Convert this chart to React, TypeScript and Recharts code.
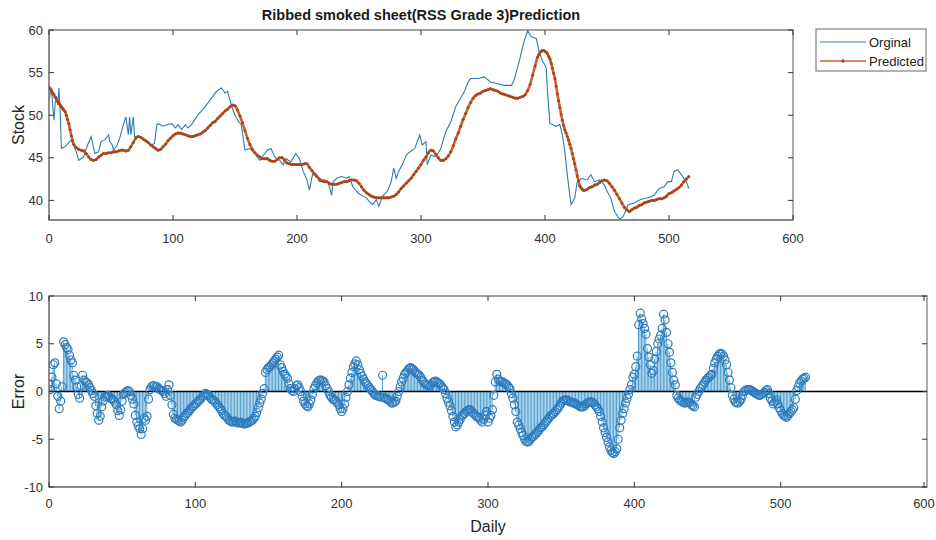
import React from 'react';
import { ComposedChart, Line, Bar, XAxis, YAxis, ReferenceLine, ReferenceArea } from 'recharts';

// x ticks shared by both panels
const xTicks = [0, 100, 200, 300, 400, 500, 600];
const stockTicks = [40, 45, 50, 55, 60];
const errTicks = [-10, -5, 0, 5, 10];

// Original price series (day, stock)
const origDays = [
  0, 1, 2, 3, 4, 5, 6, 7, 8, 9, 10, 13, 18, 22, 24, 28, 30, 34, 37, 40, 42, 45, 48, 49, 51, 52, 55, 57, 60, 62,
  64, 65, 66, 68, 69, 72, 77, 83, 85, 87, 88, 92, 96, 99, 102, 104, 107, 110, 112, 115, 120, 126, 131, 135, 139,
  142, 144, 147, 150, 153, 155, 158, 162, 166, 170, 174, 176, 179, 182, 186, 189, 191, 195, 199, 202, 205, 208,
  210, 213, 216, 218, 222, 225, 228, 229, 232, 236, 240, 242, 245, 249, 253, 256, 258, 261, 264, 266, 269, 273,
  276, 278, 280, 282, 285, 288, 291, 295, 299, 301, 304, 305, 308, 312, 316, 320, 324, 328, 332, 335, 338, 340,
  346, 351, 356, 362, 367, 373, 375, 379, 383, 386, 389, 393, 395, 398, 400, 401, 402, 404, 406, 409, 412, 414,
  416, 418, 421, 424, 426, 430, 434, 437, 440, 444, 448, 450, 453, 456, 460, 463, 467, 472, 477, 483, 488, 492,
  496, 499, 502, 504, 507, 509, 511, 514, 516,
];
const origVals = [
  51.6, 52.6, 53.2, 51.0, 49.4, 51.5, 52.2, 51.2, 53.2, 50.4, 46.1, 46.3, 47.1, 45.7, 44.7, 45.1, 46.1, 47.5, 45.5,
  45.7, 46.9, 47.1, 47.7, 46.9, 46.5, 45.9, 46.5, 47.3, 48.9, 49.8, 47.7, 49.8, 47.7, 49.8, 47.5, 47.5, 47.1, 46.5,
  46.7, 48.9, 49.0, 48.7, 48.9, 49.0, 48.5, 48.9, 48.3, 48.9, 48.5, 48.9, 50.0, 51.0, 52.0, 52.8, 53.2, 52.6, 52.8,
  51.2, 50.0, 49.2, 48.9, 45.9, 46.1, 45.5, 44.7, 45.5, 45.9, 46.1, 45.1, 44.7, 44.2, 44.9, 44.5, 45.5, 44.9, 43.4,
  42.4, 41.2, 43.4, 43.0, 42.2, 42.4, 42.2, 40.6, 42.2, 42.6, 42.8, 42.6, 42.8, 41.6, 40.9, 40.5, 40.3, 39.9, 39.5,
  40.1, 39.3, 40.5, 41.1, 42.2, 43.8, 42.6, 43.4, 44.2, 45.3, 45.7, 46.1, 47.7, 46.5, 46.9, 44.2, 45.3, 45.1, 46.1,
  48.1, 49.2, 51.0, 52.0, 52.8, 53.9, 54.3, 54.3, 54.5, 53.9, 53.7, 53.5, 53.5, 54.1, 56.2, 58.6, 59.9, 59.2, 59.0,
  57.6, 56.3, 55.9, 55.5, 52.8, 49.0, 48.9, 48.7, 48.9, 47.7, 45.7, 43.0, 39.5, 40.3, 42.2, 42.6, 42.4, 43.0, 42.2,
  42.4, 41.8, 41.1, 40.3, 38.7, 37.8, 38.1, 39.5, 39.7, 40.1, 40.3, 40.6, 41.4, 41.6, 42.2, 42.2, 43.4, 43.6, 43.2,
  42.8, 42.2, 41.4,
];

// Predicted series (day, stock)
const predDays = [
  0, 1, 2, 3, 4, 5, 6, 7, 8, 9, 10, 11, 12, 13, 14, 15, 16, 17, 18, 19, 20,
  22, 24, 26, 28, 30, 32, 34, 36, 38, 40, 42, 44, 46, 48, 50, 52, 54, 56, 58, 60, 62, 64, 66, 68, 70, 72, 74, 76,
  78, 80, 82, 84, 86, 88, 90, 92, 94, 96, 98, 100, 102, 104, 106, 108, 110, 112, 114, 116, 118, 120, 122, 124, 126,
  128, 130, 132, 134, 136, 138, 140, 142, 144, 146, 148, 150, 152, 154, 156, 158, 160, 162, 164, 166, 168, 170,
  172, 174, 176, 178, 180, 182, 184, 186, 188, 190, 192, 194, 196, 198, 200, 202, 204, 206, 208, 210, 212, 214,
  216, 218, 220, 222, 224, 226, 228, 230, 232, 234, 236, 238, 240, 242, 244, 246, 248, 250, 252, 254, 256, 258,
  260, 262, 264, 266, 268, 270, 272, 274, 276, 278, 280, 282, 284, 286, 288, 290, 292, 294, 296, 298, 300, 302,
  304, 306, 308, 310, 312, 314, 316, 318, 320, 322, 324, 326, 328, 330, 332, 334, 336, 338, 340, 342, 344, 346,
  348, 350, 352, 354, 356, 358, 360, 362, 364, 366, 368, 370, 372, 374, 376, 378, 380, 382, 384, 386, 388, 390,
  392, 394, 395, 396, 397, 398, 399, 400, 401, 402, 403, 404, 405, 406, 407, 408, 409, 410, 411, 412, 413, 414,
  415, 416, 417, 418, 419, 420, 421, 422, 423, 424, 425, 426, 427, 428, 429, 430, 431, 432, 434, 436, 438, 440,
  442, 444, 446, 448, 450, 452, 454, 456, 458, 460, 462, 464, 466, 468, 470, 472, 474, 476, 478, 480, 482, 484,
  486, 488, 490, 492, 494, 496, 498, 500, 502, 504, 506, 508, 510, 512, 514, 516,
];
const predVals = [
  53.3, 53.1, 52.9, 52.6, 52.4, 52.1, 51.9, 51.6, 51.4, 51.2, 51.0, 50.8, 50.6, 50.4, 50.0, 49.5, 49.0, 48.3, 47.6,
  47.0, 46.6,
  46.2, 46.0, 45.9, 45.8, 45.5, 45.1, 44.8, 44.7, 44.8, 45.1, 45.3, 45.5, 45.5, 45.6, 45.6, 45.7, 45.7, 45.8, 45.9,
  45.9, 45.8, 45.9, 46.3, 46.8, 47.3, 47.5, 47.4, 47.2, 47.0, 46.8, 46.5, 46.3, 46.1, 45.9, 46.0, 46.3, 46.6, 47.0,
  47.3, 47.6, 47.8, 47.9, 47.9, 47.8, 47.7, 47.6, 47.5, 47.5, 47.6, 47.7, 47.8, 48.0, 48.2, 48.5, 48.8, 49.1, 49.3,
  49.6, 49.9, 50.2, 50.5, 50.7, 51.0, 51.2, 51.1, 50.6, 49.9, 49.1, 48.2, 47.3, 46.6, 46.0, 45.6, 45.3, 45.1, 44.9,
  44.9, 44.9, 44.7, 44.6, 44.6, 44.8, 45.0, 45.0, 44.7, 44.4, 44.3, 44.2, 44.2, 44.2, 44.2, 44.2, 44.3, 44.3, 43.9,
  43.5, 43.1, 42.8, 42.5, 42.3, 42.2, 42.2, 42.0, 41.9, 41.9, 41.9, 42.0, 42.1, 42.2, 42.2, 42.3, 42.4, 42.4, 42.3,
  42.0, 41.6, 41.2, 40.9, 40.7, 40.5, 40.4, 40.3, 40.3, 40.3, 40.3, 40.3, 40.3, 40.4, 40.5, 40.7, 41.0, 41.4, 41.7,
  42.0, 42.3, 42.6, 43.0, 43.4, 43.8, 44.2, 44.7, 45.1, 45.6, 45.9, 45.8, 45.4, 45.0, 44.7, 44.7, 44.9, 45.2, 45.7,
  46.4, 47.2, 47.9, 48.7, 49.5, 50.2, 50.9, 51.5, 52.0, 52.3, 52.5, 52.6, 52.8, 52.9, 53.0, 53.1, 53.0, 52.9, 52.8,
  52.6, 52.5, 52.4, 52.3, 52.2, 52.1, 52.0, 52.0, 52.1, 52.2, 52.4, 52.9, 53.6, 54.7, 55.8, 56.8, 57.1, 57.4, 57.5,
  57.6, 57.6, 57.5, 57.4, 57.2, 56.9, 56.6, 56.1, 55.5, 54.9, 54.3, 53.4, 52.5, 51.7, 50.9, 50.1, 49.4, 48.8, 48.3,
  47.9, 47.5, 47.1, 46.6, 46.1, 45.5, 44.9, 44.3, 43.6, 42.9, 42.3, 41.7, 41.5, 41.3, 41.2, 41.2, 41.3, 41.5, 41.6,
  41.8, 41.9, 42.1, 42.3, 42.4, 42.3, 42.0, 41.6, 41.2, 40.7, 40.2, 39.7, 39.2, 38.9, 38.7, 38.9, 39.1, 39.2, 39.4,
  39.5, 39.7, 39.8, 39.9, 40.0, 40.0, 40.1, 40.2, 40.2, 40.3, 40.5, 40.8, 40.9, 41.1, 41.3, 41.5, 41.8, 42.2, 42.5,
  42.8,
];

// Prediction error, one value per day starting at day 0
const errVals = [
  0.8, 0.2, 1.5, 2.8, 3.0, 0.8, -0.5, -1.8, -1.0, 0.5, // 0
  5.2, 4.9, 4.6, 4.4, 3.8, 3.3, 3.0, 1.7, 1.2, 0.5, // 10
  -0.3, -0.7, 0.6, 1.7, 1.2, 1.0, 0.9, 0.7, 0.4, 0.1, // 20
  -0.2, -0.5, -1.5, -2.3, -3.0, -2.6, -1.6, -1.0, -0.6, -0.5, // 30
  -0.4, -0.5, -0.7, -0.8, -0.9, -1.1, -1.4, -2.0, -2.5, -1.9, // 40
  -1.0, -0.3, -0.1, 0.0, 0.1, 0.0, -0.4, -0.8, -1.3, -2.5, // 50
  -3.2, -3.6, -3.9, -4.5, -3.9, -2.8, -3.0, -2.6, -0.8, 0.2, // 60
  0.5, 0.6, 0.6, 0.5, 0.5, 0.3, 0.2, 0.1, 0.0, -0.2, // 70
  -0.5, 0.2, 0.7, -0.4, -1.4, -2.4, -2.8, -2.9, -3.0, -3.1, // 80
  -3.2, -3.0, -2.7, -2.5, -2.3, -2.2, -2.0, -1.8, -1.6, -1.5, // 90
  -1.3, -1.2, -1.0, -0.9, -0.7, -0.5, -0.4, -0.2, -0.3, -0.4, // 100
  -0.6, -0.8, -0.9, -1.0, -1.2, -1.4, -1.6, -1.8, -2.0, -2.3, // 110
  -2.5, -2.6, -2.8, -3.0, -3.1, -3.2, -3.2, -3.1, -3.2, -3.3, // 120
  -3.3, -3.2, -3.3, -3.4, -3.4, -3.3, -3.3, -3.2, -3.1, -3.0, // 130
  -2.8, -2.6, -2.2, -1.7, -1.2, -0.8, -0.2, 0.3, 2.0, 2.3, // 140
  2.5, 2.6, 2.8, 3.0, 3.2, 3.4, 3.6, 3.8, 2.8, 2.5, // 150
  2.1, 1.8, 1.6, 1.4, 0.8, 0.3, 0.1, 0.0, 0.3, 0.6, // 160
  0.7, 0.4, 0.0, -0.5, -1.0, -1.3, -1.5, -1.6, -1.3, -0.9, // 170
  -0.3, 0.3, 0.6, 0.9, 1.1, 1.2, 1.2, 1.1, 1.0, 0.6, // 180
  0.3, 0.0, -0.4, -0.6, -0.8, -0.9, -1.0, -1.2, -1.4, -1.8, // 190
  -2.1, -1.8, -1.3, -0.6, 0.0, 0.7, 1.4, 2.0, 2.6, 2.9, // 200
  3.2, 2.8, 2.3, 1.9, 1.6, 1.3, 1.0, 0.8, 0.6, 0.4, // 210
  0.2, 0.0, -0.2, -0.4, -0.4, -0.5, -0.5, -0.6, 1.7, -0.6, // 220
  -0.7, -0.8, -0.9, -1.0, -1.2, -1.2, -1.1, -1.0, -0.5, 0.0, // 230
  0.5, 1.0, 1.4, 1.8, 2.0, 2.2, 2.4, 2.5, 2.4, 2.3, // 240
  2.1, 1.9, 1.8, 1.7, 1.5, 1.2, 1.0, 0.8, 0.7, 0.6, // 250
  0.5, 0.7, 0.9, 1.0, 1.1, 1.0, 0.9, 0.8, 0.6, 0.4, // 260
  0.2, -0.2, -0.7, -1.1, -1.5, -2.0, -2.6, -3.2, -3.7, -3.5, // 270
  -3.2, -2.9, -2.6, -2.4, -2.3, -2.1, -2.0, -1.9, -1.9, -2.1, // 280
  -2.3, -2.4, -2.6, -2.7, -2.8, -3.0, -3.2, -2.9, -2.5, -2.1, // 290
  -3.2, -2.8, -2.5, -1.9, -0.4, 1.0, 1.8, 1.3, 1.1, 1.0, // 300
  1.0, 0.9, 0.8, 0.7, 0.5, 0.3, -0.2, -0.7, -1.4, -2.1, // 310
  -3.2, -3.5, -3.9, -4.3, -4.6, -5.0, -5.2, -5.3, -5.2, -5.0, // 320
  -4.8, -4.7, -4.5, -4.4, -4.2, -4.0, -3.8, -3.7, -3.5, -3.3, // 330
  -3.1, -2.9, -2.7, -2.5, -2.4, -2.3, -2.1, -1.9, -1.7, -1.5, // 340
  -1.2, -1.0, -0.9, -0.9, -0.9, -1.0, -1.1, -1.1, -1.2, -1.2, // 350
  -1.3, -1.4, -1.5, -1.6, -1.6, -1.6, -1.5, -1.3, -1.2, -1.1, // 360
  -1.1, -1.1, -1.2, -1.4, -1.6, -1.8, -2.1, -2.6, -3.2, -3.8, // 370
  -4.3, -4.8, -5.3, -5.8, -6.2, -6.4, -6.5, -6.3, -6.0, -5.0, // 380
  -3.8, -3.0, -2.3, -1.8, -1.2, -0.7, -0.3, 0.2, 0.7, 1.5, // 390
  1.8, 2.6, 3.7, 7.0, 8.2, 7.6, 7.1, 6.6, 6.0, 4.5, // 400
  3.6, 2.8, 1.9, 2.2, 3.4, 4.2, 5.0, 5.5, 5.9, 6.6, // 410
  8.1, 7.5, 6.2, 5.0, 4.1, 3.0, 2.0, 1.2, 0.7, -0.4, // 420
  -0.7, -0.9, -1.0, -1.1, -1.2, -1.2, -1.1, -1.1, -1.2, -1.4, // 430
  -1.5, -1.6, -0.6, -0.3, 0.0, 0.3, 0.5, 0.7, 1.0, 1.2, // 440
  1.4, 1.5, 1.7, 1.8, 2.4, 3.0, 3.4, 3.7, 3.9, 4.0, // 450
  3.9, 3.7, 3.3, 2.8, 2.0, 1.2, 0.4, -0.4, -0.8, -1.1, // 460
  -1.2, -1.2, -1.0, -0.8, -0.4, 0.0, 0.1, 0.2, 0.2, 0.2, // 470
  0.1, 0.0, -0.1, -0.2, -0.3, -0.4, -0.4, -0.3, -0.2, -0.1, // 480
  0.1, 0.2, -0.2, -0.7, -1.0, -1.3, -1.1, -0.9, -1.3, -1.7, // 490
  -2.0, -2.3, -2.5, -2.6, -2.7, -2.5, -2.3, -2.1, -1.9, -1.7, // 500
  -0.8, 0.1, 0.5, 0.9, 1.1, 1.3, 1.4, 1.5, // 510
];

const FONT = '"Liberation Sans", Arial, Helvetica, sans-serif';
const BOX = '#808080';
const TICK = '#333333';
const ORIG = '#2f7cb3';
const PRED = '#cc6430';
const PRED_DOT = '#a4451b';
const STEM = '#4f9fd2';
const MARK = '#2d7cbd';
const TICK_MARGIN = 14;

// x tick: label below the axis, inward tick at bottom and top of the box
function XTick(props: any) {
  const { x, y, payload, plotH, labelDy } = props;
  const base = y - TICK_MARGIN;
  return (
    <g>
      <line x1={x} x2={x} y1={base} y2={base - 5} stroke={TICK} />
      <line x1={x} x2={x} y1={base - plotH} y2={base - plotH + 5} stroke={TICK} />
      <text x={x} y={y} dy={labelDy} textAnchor="middle" fontSize={13} fill={TICK}>{payload.value}</text>
    </g>
  );
}

// y tick: label left of the axis, inward tick at left and right of the box
function YTick(props: any) {
  const { x, y, payload, plotW } = props;
  const base = x + 6;
  return (
    <g>
      <line x1={base} x2={base + 5} y1={y} y2={y} stroke={TICK} />
      <line x1={base + plotW} x2={base + plotW - 5} y1={y} y2={y} stroke={TICK} />
      <text x={x} y={y} dy="0.36em" textAnchor="end" fontSize={13} fill={TICK}>{payload.value}</text>
    </g>
  );
}

export default function App() {
  const origData = origDays.map((d, i) => ({ day: d, stock: origVals[i] }));
  const predData = predDays.map((d, i) => ({ day: d, stock: predVals[i] }));
  const errData = errVals.map((v, i) => ({ day: i, err: v }));

  const axisLine = { stroke: BOX, strokeWidth: 1.3 };

  return (
    <div style={{ position: 'absolute', left: 0, top: 0, width: 936, height: 540, background: '#fff', fontFamily: FONT }}>
      <div style={{ position: 'absolute', left: 0, top: 0 }}>
        <ComposedChart width={936} height={270} margin={{ top: 30, right: 143, bottom: 0, left: 0 }}>
          <XAxis xAxisId="b" type="number" dataKey="day" domain={[0, 600]} ticks={xTicks} allowDataOverflow
            height={50} tickSize={0} tickMargin={TICK_MARGIN} tickLine={false} axisLine={axisLine}
            tick={<XTick plotH={190} labelDy={9} />} />
          <YAxis yAxisId="l" type="number" domain={[37.7, 60]} ticks={stockTicks} allowDataOverflow
            width={49} tickSize={0} tickMargin={6} tickLine={false} axisLine={axisLine}
            tick={<YTick plotW={744} />}
            label={{ value: 'Stock', angle: -90, position: 'insideLeft', offset: 18, style: { textAnchor: 'middle', fontSize: 16, fill: '#262626' } }} />
          <ReferenceArea xAxisId="b" yAxisId="l" x1={0} x2={600} y1={37.7} y2={60} fill="none" stroke={BOX} strokeWidth={1.3} ifOverflow="visible" />
          <Line xAxisId="b" yAxisId="l" data={origData} dataKey="stock" type="linear" stroke={ORIG} strokeWidth={1.1}
            dot={false} isAnimationActive={false} />
          <Line xAxisId="b" yAxisId="l" data={predData} dataKey="stock" type="monotone" stroke={PRED} strokeWidth={2.6}
            dot={{ r: 1.5, fill: PRED_DOT, stroke: 'none' }} isAnimationActive={false} />
        </ComposedChart>
      </div>

      <div style={{ position: 'absolute', left: 0, top: 270 }}>
        <ComposedChart width={936} height={270} data={errData} margin={{ top: 26, right: 9, bottom: 0, left: 0 }}>
          <XAxis xAxisId="b" type="number" dataKey="day" domain={[0, 600]} ticks={xTicks} allowDataOverflow
            height={53} tickSize={0} tickMargin={TICK_MARGIN} tickLine={false} axisLine={axisLine}
            tick={<XTick plotH={191} labelDy={7} />}
            label={{ value: 'Daily', position: 'insideBottom', offset: 8, style: { fontSize: 16, fill: '#262626' } }} />
          <YAxis yAxisId="l" type="number" domain={[-10, 10]} ticks={errTicks} allowDataOverflow
            width={49} tickSize={0} tickMargin={6} tickLine={false} axisLine={axisLine}
            tick={<YTick plotW={878} />}
            label={{ value: 'Error', angle: -90, position: 'insideLeft', offset: 18, style: { textAnchor: 'middle', fontSize: 16, fill: '#262626' } }} />
          <ReferenceArea xAxisId="b" yAxisId="l" x1={0} x2={600} y1={-10} y2={10} fill="none" stroke={BOX} strokeWidth={1.3} ifOverflow="visible" />
          <Bar xAxisId="b" yAxisId="l" dataKey="err" barSize={1} fill={STEM} isAnimationActive={false} />
          <ReferenceLine xAxisId="b" yAxisId="l" y={0} stroke="#000" strokeWidth={1.3} />
          <Line xAxisId="b" yAxisId="l" dataKey="err" stroke="none" strokeWidth={0}
            dot={{ r: 4, fill: 'none', stroke: MARK, strokeWidth: 1.2 }} isAnimationActive={false} />
        </ComposedChart>
      </div>

      <svg width={936} height={540} style={{ position: 'absolute', left: 0, top: 0, pointerEvents: 'none' }}>
        <text x={421} y={20} textAnchor="middle" fontSize={14.5} fontWeight="bold" fill="#1a1a1a" fontFamily={FONT}>
          Ribbed smoked sheet(RSS Grade 3)Prediction
        </text>
        <rect x={816} y={29} width={110} height={42} fill="#fff" stroke={BOX} strokeWidth={1.2} />
        <line x1={820} x2={866} y1={42} y2={42} stroke={ORIG} strokeWidth={1.2} />
        <text x={869} y={46.5} fontSize={13} fill="#222" fontFamily={FONT}>Orginal</text>
        <line x1={820} x2={866} y1={61} y2={61} stroke={PRED} strokeWidth={1.5} />
        <circle cx={843} cy={61} r={1.7} fill={PRED_DOT} />
        <text x={869} y={65.5} fontSize={13} fill="#222" fontFamily={FONT}>Predicted</text>
      </svg>
    </div>
  );
}
